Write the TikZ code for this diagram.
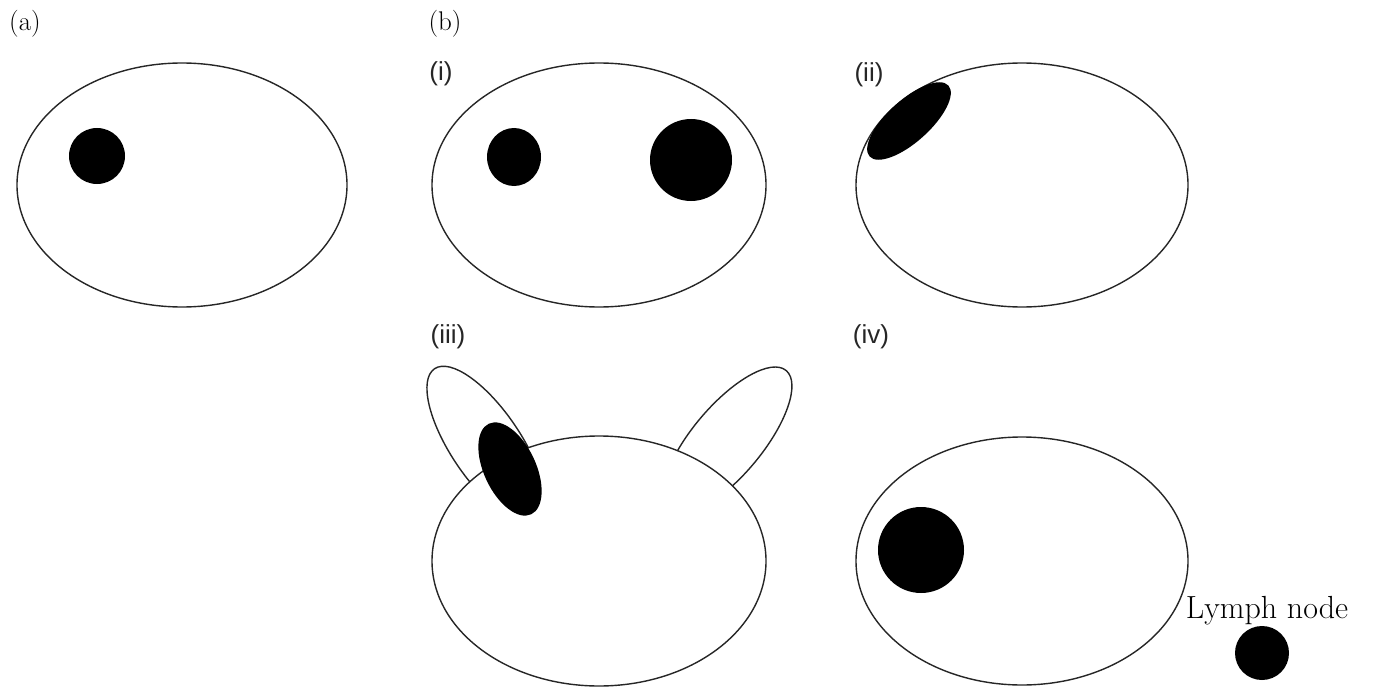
\documentclass[tikz,border=0pt]{standalone}
\usepackage{fontspec}
\newfontfamily\numfont{Liberation Sans}
\begin{document}
\begin{tikzpicture}[x=1pt,y=1pt,yscale=-1,
  organ/.style={draw=black!85,line width=1.4pt,fill=white},
  tumour/.style={fill=black},
  lbl/.style={inner sep=0pt,font=\fontsize{27}{30}\selectfont},
  rlbl/.style={inner sep=0pt,text=black!85,font=\numfont\fontsize{26}{30}\selectfont}]
\useasboundingbox (0,0) rectangle (1373,690);
% (a)
\node[lbl] (la) at (25,24) {(a)};
\path[organ] (182,185) ellipse [x radius=165, y radius=122];
\path[tumour] (97,156) circle [radius=28];
% (b)
\node[lbl] (lb) at (445,24) {(b)};
% (i)
\node[rlbl] (li) at (441,74) {(i)};
\path[organ] (599,185) ellipse [x radius=167, y radius=122];
\path[tumour] (514,157) ellipse [x radius=27, y radius=29];
\path[tumour] (691,160) circle [radius=41];
% (ii)
\node[rlbl] (lii) at (869,75) {(ii)};
\path[organ] (1022,185) ellipse [x radius=166, y radius=122];
\path[tumour, rotate around={-42:(909,121)}] (909,121) ellipse [x radius=53, y radius=21];
% (iii)
\node[rlbl] (liii) at (448,337) {(iii)};
\path[organ, rotate around={56:(486,445)}] (486,445) ellipse [x radius=92, y radius=35];
\path[organ, rotate around={-50:(727,441)}] (727,441) ellipse [x radius=92, y radius=35];
\path[organ] (599,561) ellipse [x radius=167, y radius=125];
\path[tumour, rotate around={65:(510,469)}] (510,469) ellipse [x radius=50, y radius=26];
% (iv)
\node[rlbl] (liv) at (871,337) {(iv)};
\path[organ] (1022,561) ellipse [x radius=166, y radius=124];
\path[tumour] (921,550) circle [radius=43];
\node[inner sep=0pt,font=\fontsize{32}{36}\selectfont] (lymph) at (1267,611) {Lymph node};
\path[tumour] (1262,653) circle [radius=27];
\end{tikzpicture}
\end{document}
